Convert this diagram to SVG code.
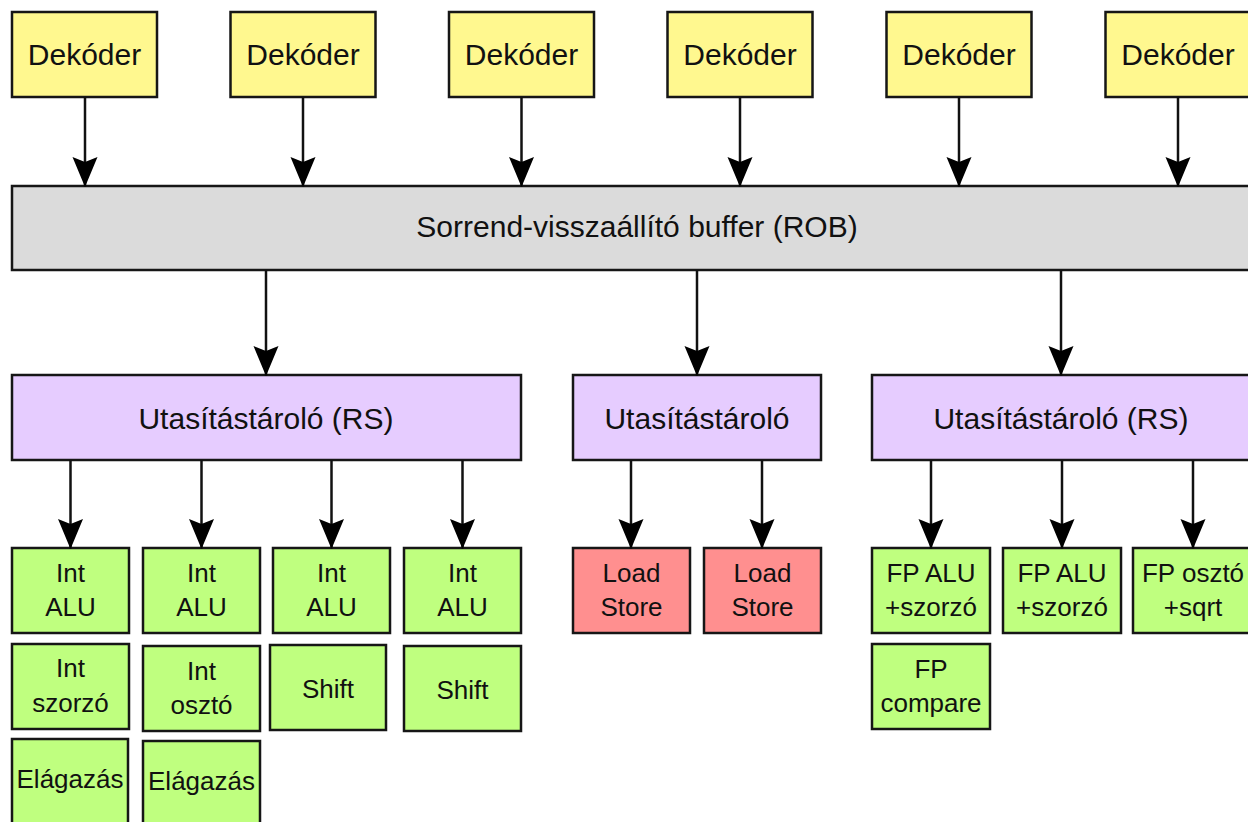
<svg xmlns="http://www.w3.org/2000/svg" width="1248" height="822" viewBox="0 0 1248 822">
  <style>
    .dec, .rob, .rs, .fu, .ls { stroke: #161616; stroke-width: 2.5; }
    .dec { fill: #fff88f; }
    .rob { fill: #dbdbdb; }
    .rs { fill: #e6ccff; }
    .fu { fill: #bfff7f; }
    .ls { fill: #ff8f8f; }
    text { font-family: "Liberation Sans", Arial, Helvetica, sans-serif; fill: #111; text-anchor: middle; }
    .big { font-size: 30px; }
    .small { font-size: 26px; }
    #connectors line { stroke: #111; stroke-width: 2.5; marker-end: url(#head); }
  </style>
  <defs>
    <marker id="head" viewBox="0 -13 31 26" markerUnits="userSpaceOnUse" markerWidth="31" markerHeight="26" refX="30" refY="0" orient="auto">
      <path d="M0,-12.5 L30,0 L0,12.5 L5,0 Z" fill="#000"/>
    </marker>
  </defs>
  <rect x="0" y="0" width="1248" height="822" fill="#fff"/>

  <!-- decoders -->
  <g id="dec1"><rect class="dec" x="12" y="12" width="145" height="85"/><text class="big" x="84.5" y="65">Dekóder</text></g>
  <g id="dec2"><rect class="dec" x="230.5" y="12" width="145" height="85"/><text class="big" x="303" y="65">Dekóder</text></g>
  <g id="dec3"><rect class="dec" x="449" y="12" width="145" height="85"/><text class="big" x="521.5" y="65">Dekóder</text></g>
  <g id="dec4"><rect class="dec" x="667.5" y="12" width="145" height="85"/><text class="big" x="740" y="65">Dekóder</text></g>
  <g id="dec5"><rect class="dec" x="886.5" y="12" width="145" height="85"/><text class="big" x="959" y="65">Dekóder</text></g>
  <g id="dec6"><rect class="dec" x="1105.5" y="12" width="145" height="85"/><text class="big" x="1178" y="65">Dekóder</text></g>

  <!-- reorder buffer -->
  <g id="rob"><rect class="rob" x="12" y="186" width="1242" height="84"/><text class="big" x="637" y="237">Sorrend-visszaállító buffer (ROB)</text></g>

  <!-- reservation stations -->
  <g id="rs-int"><rect class="rs" x="12" y="375" width="509" height="85"/><text class="big" x="266" y="429">Utasítástároló (RS)</text></g>
  <g id="rs-mem"><rect class="rs" x="573" y="375" width="248" height="85"/><text class="big" x="697" y="429">Utasítástároló</text></g>
  <g id="rs-fp"><rect class="rs" x="872" y="375" width="382" height="85"/><text class="big" x="1061" y="429">Utasítástároló (RS)</text></g>

  <!-- integer units -->
  <g id="int-alu1"><rect class="fu" x="12" y="548" width="117" height="85"/><text class="small" x="70.5" y="582">Int</text><text class="small" x="70.5" y="616">ALU</text></g>
  <g id="int-alu2"><rect class="fu" x="143" y="548" width="117" height="85"/><text class="small" x="201.5" y="582">Int</text><text class="small" x="201.5" y="616">ALU</text></g>
  <g id="int-alu3"><rect class="fu" x="273" y="548" width="117" height="85"/><text class="small" x="331.5" y="582">Int</text><text class="small" x="331.5" y="616">ALU</text></g>
  <g id="int-alu4"><rect class="fu" x="404" y="548" width="117" height="85"/><text class="small" x="462.5" y="582">Int</text><text class="small" x="462.5" y="616">ALU</text></g>
  <g id="int-mul"><rect class="fu" x="12" y="644" width="117" height="85"/><text class="small" x="70.5" y="677">Int</text><text class="small" x="70.5" y="712">szorzó</text></g>
  <g id="int-div"><rect class="fu" x="143" y="646" width="117" height="85"/><text class="small" x="201.5" y="680">Int</text><text class="small" x="201.5" y="714">osztó</text></g>
  <g id="shift1"><rect class="fu" x="270" y="645" width="116" height="85"/><text class="small" x="328" y="698">Shift</text></g>
  <g id="shift2"><rect class="fu" x="404" y="646" width="117" height="85"/><text class="small" x="462.5" y="699">Shift</text></g>
  <g id="branch1"><rect class="fu" x="12" y="739" width="116" height="92"/><text class="small" x="70" y="788">Elágazás</text></g>
  <g id="branch2"><rect class="fu" x="143" y="741" width="117" height="92"/><text class="small" x="201.5" y="790">Elágazás</text></g>

  <!-- memory units -->
  <g id="ls1"><rect class="ls" x="573" y="548" width="117" height="85"/><text class="small" x="631.5" y="582">Load</text><text class="small" x="631.5" y="616">Store</text></g>
  <g id="ls2"><rect class="ls" x="704" y="548" width="117" height="85"/><text class="small" x="762.5" y="582">Load</text><text class="small" x="762.5" y="616">Store</text></g>

  <!-- floating point units -->
  <g id="fp-alu1"><rect class="fu" x="872" y="548" width="118" height="85"/><text class="small" x="931" y="582">FP ALU</text><text class="small" x="931" y="616">+szorzó</text></g>
  <g id="fp-alu2"><rect class="fu" x="1003" y="548" width="118" height="85"/><text class="small" x="1062" y="582">FP ALU</text><text class="small" x="1062" y="616">+szorzó</text></g>
  <g id="fp-div"><rect class="fu" x="1133" y="548" width="122" height="85"/><text class="small" x="1193" y="582">FP osztó</text><text class="small" x="1193" y="616">+sqrt</text></g>
  <g id="fp-cmp"><rect class="fu" x="872" y="644" width="118" height="85"/><text class="small" x="931" y="678">FP</text><text class="small" x="931" y="712">compare</text></g>

  <!-- connectors -->
  <g id="connectors">
    <line x1="85" y1="97" x2="85" y2="187"/>
    <line x1="303" y1="97" x2="303" y2="187"/>
    <line x1="521.5" y1="97" x2="521.5" y2="187"/>
    <line x1="740" y1="97" x2="740" y2="187"/>
    <line x1="959" y1="97" x2="959" y2="187"/>
    <line x1="1178" y1="97" x2="1178" y2="187"/>

    <line x1="266" y1="270" x2="266" y2="376"/>
    <line x1="697" y1="270" x2="697" y2="376"/>
    <line x1="1061" y1="270" x2="1061" y2="376"/>

    <line x1="70.5" y1="460" x2="70.5" y2="549"/>
    <line x1="201.5" y1="460" x2="201.5" y2="549"/>
    <line x1="331.5" y1="460" x2="331.5" y2="549"/>
    <line x1="462.5" y1="460" x2="462.5" y2="549"/>

    <line x1="631" y1="460" x2="631" y2="549"/>
    <line x1="762" y1="460" x2="762" y2="549"/>

    <line x1="931" y1="460" x2="931" y2="549"/>
    <line x1="1062" y1="460" x2="1062" y2="549"/>
    <line x1="1193" y1="460" x2="1193" y2="549"/>
  </g>
</svg>
